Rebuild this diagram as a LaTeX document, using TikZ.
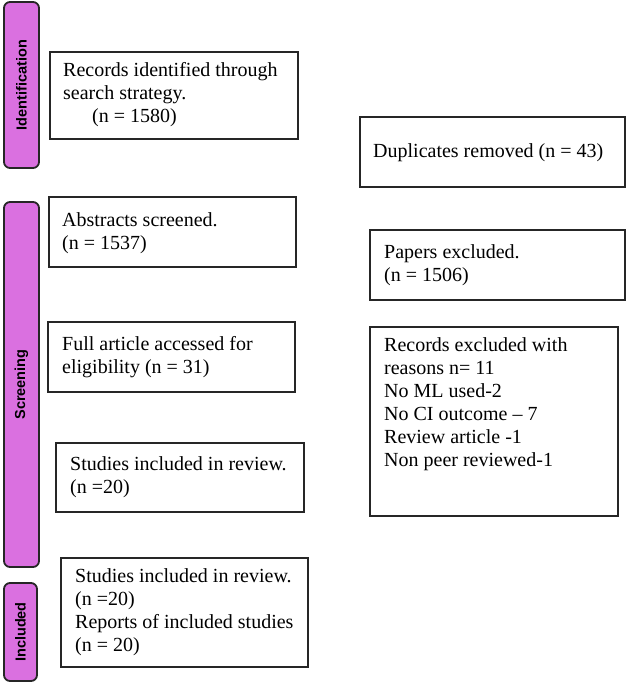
\documentclass[tikz,border=0pt]{standalone}
\usepackage{fontspec}
\setmainfont{Liberation Serif}
\setsansfont{Liberation Sans}
\definecolor{barfill}{HTML}{DA70E0}
\definecolor{edge}{HTML}{262626}
\begin{document}
\begin{tikzpicture}[x=1pt,y=-1pt,
  bar/.style={draw=edge,line width=1.8pt,fill=barfill,rounded corners=6pt,inner sep=0pt},
  barlabel/.style={rotate=90,font=\sffamily\bfseries\fontsize{14.5}{17}\selectfont,inner sep=0pt},
  box/.style={draw=edge,line width=1.3pt,inner sep=0pt},
  boxtext/.style={anchor=west,align=left,inner sep=0pt,font=\fontsize{20}{23}\selectfont}]
\useasboundingbox (0,0) rectangle (628,685);
% phase bars
\node[bar,minimum width=35pt,minimum height=166pt] (idbar) at (21.5,85) {};
\node[barlabel] (idlab) at (idbar.center) {Identification};
\node[bar,minimum width=35pt,minimum height=365pt] (scbar) at (21.5,384.5) {};
\node[barlabel] (sclab) at (scbar.center) {Screening};
\node[bar,minimum width=33pt,minimum height=98pt] (inbar) at (20.5,632) {};
\node[barlabel] (inlab) at (inbar.center) {Included};
% boxes
\node[box,minimum width=248pt,minimum height=87pt] (rec) at (174,95.5) {};
\node[boxtext] (rect) at (63,95) {Records identified through\\search strategy.\\\hspace*{29pt}(n = 1580)};
\node[box,minimum width=265pt,minimum height=70pt] (dup) at (492.5,152) {};
\node[boxtext] (dupt) at (373,153) {Duplicates removed (n = 43)};
\node[box,minimum width=247pt,minimum height=70pt] (abs) at (172.5,232) {};
\node[boxtext] (abst) at (62,233.5) {Abstracts screened.\\(n = 1537)};
\node[box,minimum width=255pt,minimum height=70pt] (pap) at (497.5,265) {};
\node[boxtext] (papt) at (384,265.5) {Papers excluded.\\(n = 1506)};
\node[box,minimum width=247pt,minimum height=70pt] (full) at (171.5,357) {};
\node[boxtext] (fullt) at (62,357.5) {Full article accessed for\\eligibility (n = 31)};
\node[box,minimum width=248pt,minimum height=189pt] (excl) at (494,421.5) {};
\node[boxtext] (exclt) at (384,404.5) {Records excluded with\\reasons n= 11\\No ML used-2\\No CI outcome -- 7\\Review article -1\\Non peer reviewed-1};
\node[box,minimum width=248pt,minimum height=69pt] (stud) at (180,477.5) {};
\node[boxtext] (studt) at (70,477.5) {Studies included in review.\\(n =20)};
\node[box,minimum width=247pt,minimum height=109pt] (fin) at (184.5,612.5) {};
\node[boxtext] (fint) at (75,612) {Studies included in review.\\(n =20)\\Reports of included studies\\(n = 20)};
\end{tikzpicture}
\end{document}
